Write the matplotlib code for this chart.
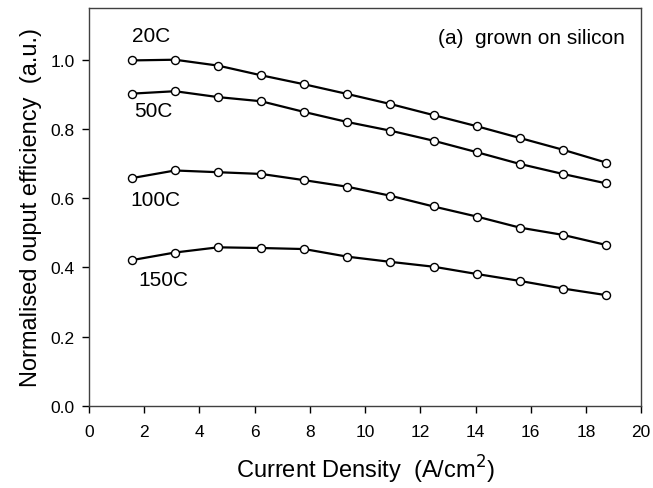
import matplotlib
matplotlib.use("Agg")
import matplotlib.pyplot as plt

plt.rcParams['font.family'] = ['Liberation Sans', 'DejaVu Sans']

# current density (A/cm^2)
current_density = [1.56, 3.12, 4.68, 6.24, 7.80, 9.36, 10.92, 12.48, 14.04, 15.60, 17.16, 18.72]

eff_20c = [0.998, 1.000, 0.983, 0.955, 0.929, 0.901, 0.872, 0.840, 0.808, 0.774, 0.740, 0.703]
eff_50c = [0.902, 0.909, 0.892, 0.880, 0.849, 0.820, 0.795, 0.766, 0.733, 0.699, 0.670, 0.643]
eff_100c = [0.658, 0.680, 0.675, 0.670, 0.652, 0.633, 0.607, 0.576, 0.547, 0.515, 0.494, 0.465]
eff_150c = [0.421, 0.443, 0.458, 0.456, 0.453, 0.431, 0.416, 0.402, 0.381, 0.361, 0.339, 0.320]

series = [eff_20c, eff_50c, eff_100c, eff_150c]
labels = ["20C", "50C", "100C", "150C"]
label_pos = [(1.56, 1.07), (1.63, 0.854), (1.49, 0.595), (1.78, 0.365)]

fig = plt.figure(figsize=(6.53, 4.89), dpi=100)
ax = fig.add_axes([0.136, 0.168, 0.846, 0.814])

for ys in series:
    ax.plot(current_density, ys, color='black', lw=1.6, marker='o', ms=5.8,
            mfc='white', mec='black', mew=1.0)

for txt, (x, y) in zip(labels, label_pos):
    ax.text(x, y, txt, fontsize=15, ha='left', va='center')

ax.text(0.97, 0.95, "(a)  grown on silicon", transform=ax.transAxes,
        fontsize=15, ha='right', va='top')

ax.set_xlim(0, 20)
ax.set_ylim(0, 1.15)
ax.set_xticks(range(0, 21, 2))
ax.set_yticks([0.0, 0.2, 0.4, 0.6, 0.8, 1.0])
ax.set_yticklabels(["0.0", "0.2", "0.4", "0.6", "0.8", "1.0"])
ax.tick_params(direction='out', length=5, width=1, labelsize=12.5, colors='black', pad=5)
ax.tick_params(axis='x', pad=8)
for s in ax.spines.values():
    s.set_color('#404040')
    s.set_linewidth(1.0)

ax.set_xlabel("Current Density  (A/cm$^2$)", fontsize=17, labelpad=10)
ax.set_ylabel("Normalised ouput efficiency  (a.u.)", fontsize=17, labelpad=6)

fig.savefig("out.png", dpi=100)
